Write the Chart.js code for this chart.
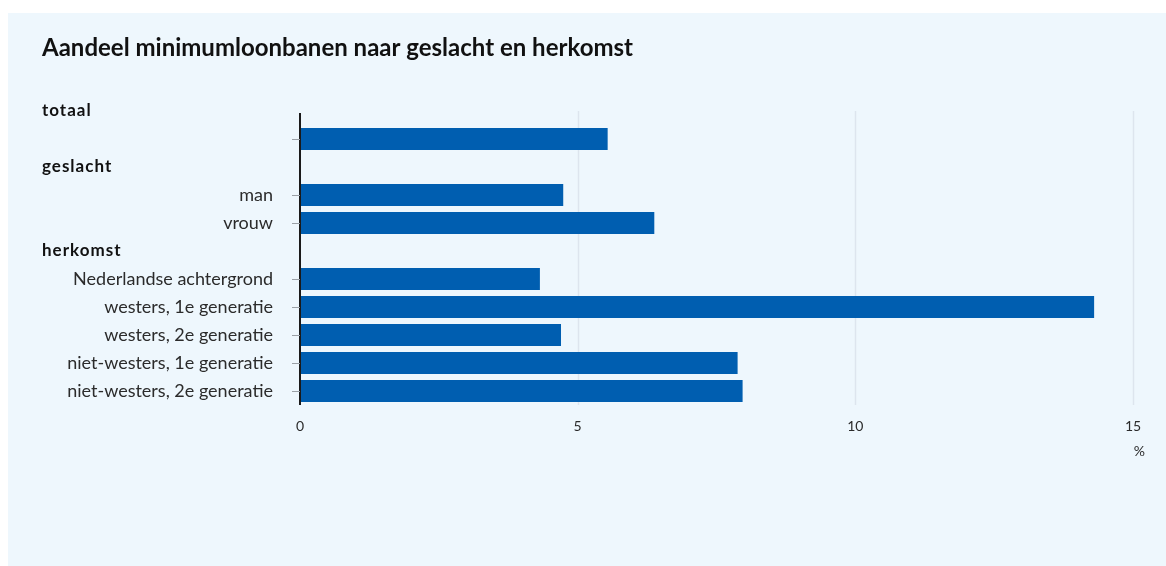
<!DOCTYPE html>
<html>
<head>
<meta charset="utf-8">
<script src="https://cdn.jsdelivr.net/npm/chart.js@4/dist/chart.umd.min.js"></script>
<style>
  html, body { margin: 0; padding: 0; background: #ffffff; }
  #panel {
    position: absolute; left: 8px; top: 13px;
    width: 1158px; height: 553px;
    background: #eef7fd;
  }
</style>
</head>
<body>
<div id="panel"><canvas id="chart"></canvas></div>
<script>
// Rows from top to bottom; header rows carry no value
const rowLabels = [
  'totaal', '',
  'geslacht', 'man', 'vrouw',
  'herkomst', 'Nederlandse achtergrond', 'westers, 1e generatie', 'westers, 2e generatie',
  'niet-westers, 1e generatie', 'niet-westers, 2e generatie'
];
const rowIsHeader = [true, false, true, false, false, true, false, false, false, false, false];
const shareValues = [null, 5.54, null, 4.74, 6.38, null, 4.32, 14.30, 4.70, 7.88, 7.97];
const xTicks = [0, 5, 10, 15];

const chartTitle = 'Aandeel minimumloonbanen naar geslacht en herkomst';
const unitLabel = '%';

const FONT = 'Lato, "Noto Sans", sans-serif';
const barBlue = '#005eb0';
const gridColor = '#dde5ee';
const textColor = '#2b2b2b';

// gridlines, axis line, row labels, title
const decorations = {
  id: 'decorations',
  beforeDatasetsDraw(chart) {
    const { ctx, chartArea, scales } = chart;
    const top = scales.y.getPixelForValue(0);
    ctx.save();
    ctx.strokeStyle = gridColor;
    ctx.lineWidth = 1.5;
    xTicks.forEach(t => {
      if (t === 0) return;
      const x = Math.round(scales.x.getPixelForValue(t)) + 0.5;
      ctx.beginPath();
      ctx.moveTo(x, top);
      ctx.lineTo(x, chartArea.bottom);
      ctx.stroke();
    });
    ctx.restore();
  },
  afterDatasetsDraw(chart) {
    const { ctx, chartArea, scales } = chart;
    const top = scales.y.getPixelForValue(0) + 2;
    const x0 = scales.x.getPixelForValue(0);
    ctx.save();
    // y axis line
    ctx.strokeStyle = '#1a1a1a';
    ctx.lineWidth = 2;
    ctx.beginPath();
    ctx.moveTo(x0, top);
    ctx.lineTo(x0, chartArea.bottom);
    ctx.stroke();

    ctx.textBaseline = 'middle';
    rowLabels.forEach((label, i) => {
      const y = scales.y.getPixelForValue(i);
      if (rowIsHeader[i]) {
        ctx.font = 'bold 17px ' + FONT;
        ctx.letterSpacing = '1px';
        ctx.fillStyle = '#111';
        ctx.textAlign = 'left';
        ctx.fillText(label, 34, y);
        ctx.letterSpacing = '0px';
      } else {
        // tick mark
        ctx.strokeStyle = '#9aa0a6';
        ctx.lineWidth = 1;
        ctx.beginPath();
        ctx.moveTo(x0 - 8, Math.round(y) + 0.5);
        ctx.lineTo(x0, Math.round(y) + 0.5);
        ctx.stroke();
        ctx.font = '18px ' + FONT;
        ctx.fillStyle = textColor;
        ctx.textAlign = 'right';
        ctx.fillText(label, 265, y);
      }
    });
    ctx.restore();
  },
  afterDraw(chart) {
    const { ctx } = chart;
    ctx.save();
    ctx.fillStyle = '#111';
    ctx.font = 'bold 24px ' + FONT;
    ctx.textAlign = 'left';
    ctx.textBaseline = 'middle';
    ctx.fillText(chartTitle, 34, 35);

    ctx.font = '14px ' + FONT;
    ctx.fillStyle = textColor;
    ctx.textAlign = 'right';
    ctx.fillText(unitLabel, 1137, 438);
    ctx.restore();
  }
};

new Chart(document.getElementById('chart'), {
  type: 'bar',
  data: {
    labels: rowLabels,
    datasets: [{
      data: shareValues,
      backgroundColor: barBlue,
      borderWidth: 0,
      barPercentage: 1,
      categoryPercentage: 0.79
    }]
  },
  options: {
    indexAxis: 'y',
    responsive: true,
    maintainAspectRatio: false,
    animation: false,
    layout: { padding: { left: 292, right: 33, top: 84, bottom: 121 } },
    plugins: {
      legend: { display: false },
      tooltip: { enabled: false }
    },
    scales: {
      x: {
        min: 0,
        max: 15,
        border: { display: false },
        grid: { display: false, drawTicks: false },
        afterFit(scale) { scale.height = 40; },
        afterBuildTicks(scale) { scale.ticks = xTicks.map(v => ({ value: v })); },
        ticks: {
          padding: 13,
          color: textColor,
          font: { family: FONT, size: 14 }
        }
      },
      y: {
        display: false
      }
    }
  },
  plugins: [decorations]
});
</script>
</body>
</html>
